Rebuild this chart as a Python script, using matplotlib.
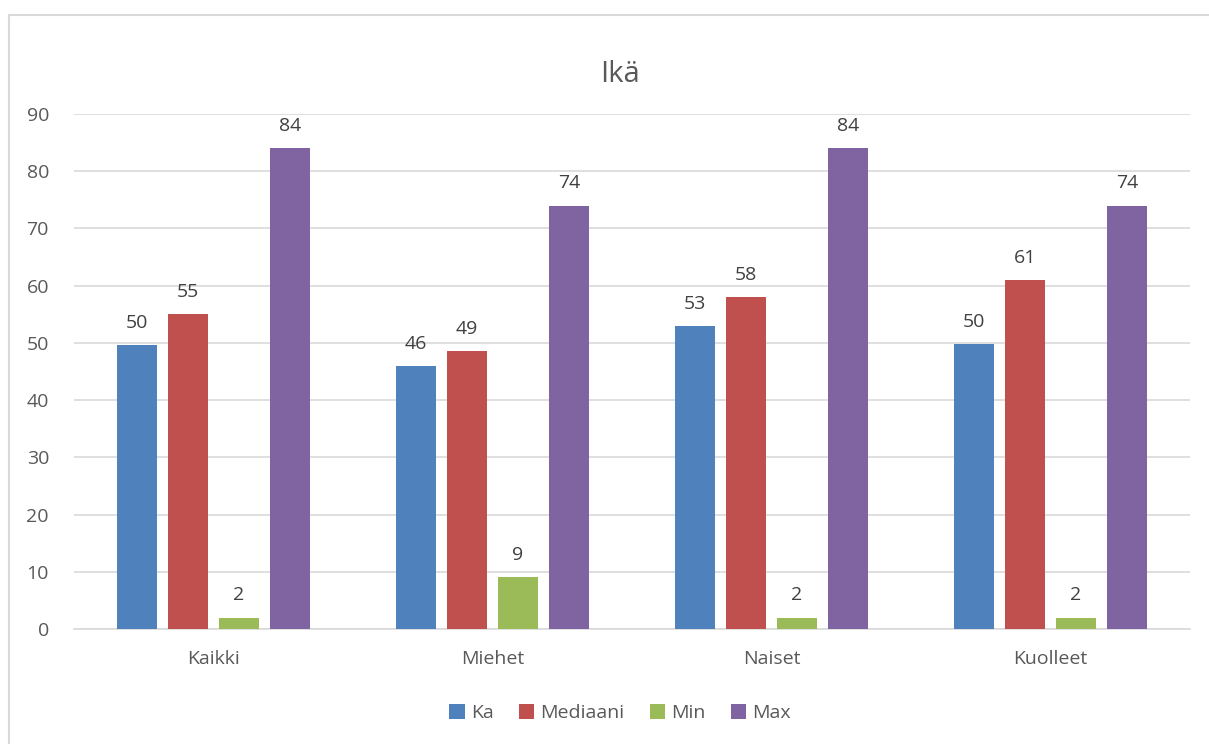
import numpy as np
import matplotlib.pyplot as plt
from matplotlib.lines import Line2D

categories = ["Kaikki", "Miehet", "Naiset", "Kuolleet"]
series_names = ["Ka", "Mediaani", "Min", "Max"]
ka = [49.6, 46, 53, 49.8]
mediaani = [55, 48.5, 58, 61]
min_vals = [2, 9, 2, 2]
max_vals = [84, 74, 84, 74]
labels_ka = ["50", "46", "53", "50"]
labels_med = ["55", "49", "58", "61"]
labels_min = ["2", "9", "2", "2"]
labels_max = ["84", "74", "84", "74"]

colors = ["#4F81BD", "#C0504D", "#9BBB59", "#8064A2"]
txt = "#595959"

plt.rcParams["font.family"] = ["Open Sans", "DejaVu Sans"]

fig = plt.figure(figsize=(12.09, 7.44), dpi=100)
ax = fig.add_axes([0.0612, 0.1546, 0.923, 0.6922])

# chart frame (cut off on right and bottom)
fig.add_artist(Line2D([9 / 1209, 1], [1 - 15 / 744] * 2, color="#d9d9d9", lw=1.5))
fig.add_artist(Line2D([9 / 1209] * 2, [0, 1 - 15 / 744], color="#d9d9d9", lw=1.5))

x = np.arange(len(categories))
width = 0.143
step = 0.183
all_vals = [ka, mediaani, min_vals, max_vals]
all_labels = [labels_ka, labels_med, labels_min, labels_max]
for i, (vals, labs) in enumerate(zip(all_vals, all_labels)):
    pos = x + (i - 1.5) * step
    ax.bar(pos, vals, width, color=colors[i], label=series_names[i], zorder=3)
    for p, v, l in zip(pos, vals, labs):
        ax.text(p, v + 2.3, l, ha="center", va="bottom", fontsize=14, color="#404040")

ax.set_xlim(-0.5, 3.5)
ax.set_ylim(0, 90)
ax.set_yticks(range(0, 91, 10))
ax.set_xticks(x)
ax.set_xticklabels(categories)
ax.yaxis.grid(True, color="#d9d9d9", lw=1.2, zorder=0)
for s in ["top", "right", "left"]:
    ax.spines[s].set_visible(False)
ax.spines["bottom"].set_color("#d9d9d9")
ax.spines["bottom"].set_linewidth(1.2)
ax.tick_params(length=0, labelsize=14, labelcolor=txt)
ax.tick_params(axis="y", pad=18)
ax.tick_params(axis="x", pad=15)
fig.text(620 / 1209, 1 - 75 / 744, "Ikä", fontsize=21, color=txt, ha="center", va="center")

leg = fig.legend(loc="center", bbox_to_anchor=(620 / 1209, 1 - 713 / 744), ncol=4,
                 frameon=False, fontsize=14, handlelength=0.8, handleheight=0.8,
                 handletextpad=0.3, columnspacing=1.3)
for t in leg.get_texts():
    t.set_color(txt)

fig.savefig("out.png", dpi=100)
